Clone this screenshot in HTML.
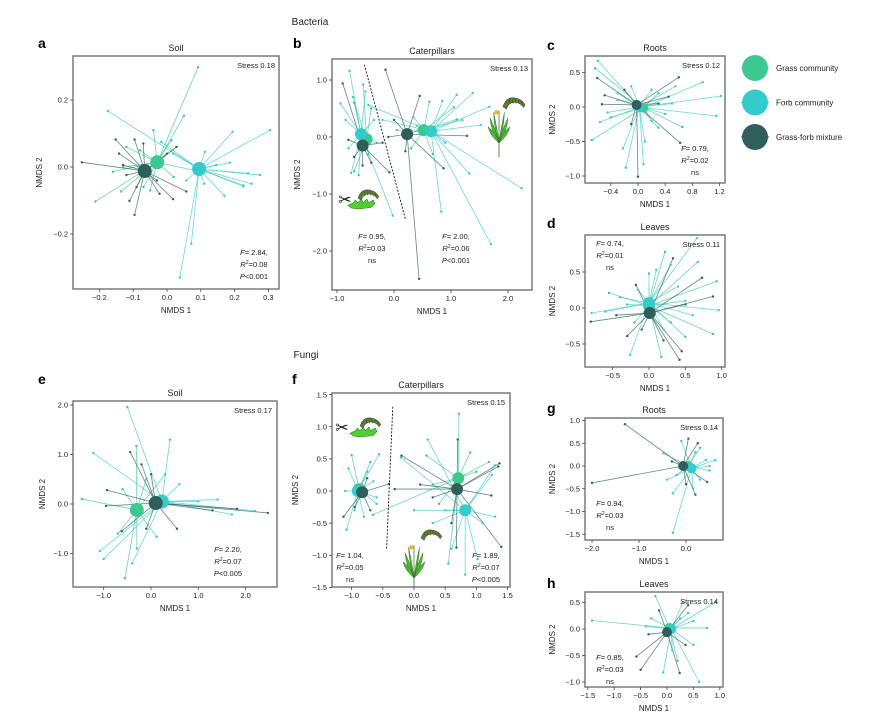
<!DOCTYPE html>
<html><head><meta charset="utf-8"><style>
body{margin:0;background:#fff;}
svg{display:block;font-family:"Liberation Sans",Arial,sans-serif;}
</style></head><body>
<svg id="fig" width="875" height="717" viewBox="0 0 875 717"></svg>
<script>
// ---- Panel data (NMDS coordinates) ----
const aGrass=[[0.092,0.298],[0.05,0.153],[-0.212,-0.103],[-0.16,-0.014],[-0.04,0.11],[0.028,0.06],[-0.136,-0.073],[-0.08,0.05],[-0.07,-0.06],[-0.12,0.06],[0.013,0.08],[-0.05,-0.07],[0.02,-0.03],[0.08,-0.01],[-0.13,0.0]];
const aForb=[[0.305,0.11],[-0.175,0.167],[0.038,-0.33],[0.072,-0.229],[0.275,-0.024],[0.226,-0.058],[0.17,-0.086],[0.194,0.105],[0.24,-0.019],[0.226,-0.055],[0.112,0.045],[0.146,0.006],[0.186,0.013],[0.057,-0.04],[-0.017,0.075],[0.018,0.04],[0.25,-0.05],[0.11,-0.05]];
const aMix=[[-0.252,0.014],[-0.152,0.082],[-0.096,-0.143],[-0.111,-0.101],[-0.022,-0.08],[0.018,-0.096],[0.057,-0.073],[-0.096,0.082],[0.028,0.06],[-0.142,0.04],[-0.12,-0.024],[-0.09,-0.06],[-0.13,0.006],[-0.07,0.07],[0.0,0.04],[-0.03,-0.04]];
const aCent={g:[[-0.029,0.014]],f:[[0.095,-0.006]],m:[[-0.066,-0.012]]};

const bGrass=[[-0.54,0.92,0],[-0.7,0.6,0],[-0.4,0.5,0],[-0.45,-0.3,0],[-0.7,-0.6,0],[1.1,0.31,1],[0.62,0.62,1],[1.05,0.52,1],[0.34,0.35,1],[0.05,0.12,1],[0.68,-0.3,1],[1.2,0.3,1],[0.3,-0.2,1]];
const bForb=[[-0.78,1.16,0],[-0.94,0.59,0],[-0.72,0.7,0],[-0.02,-1.38,0],[-0.75,-0.63,0],[-0.62,-0.67,0],[-0.85,0.3,0],[-0.35,0.3,0],[-0.3,-0.1,0],[-0.8,-0.2,0],[-0.5,0.8,0],[-0.45,0.56,1],[2.24,-0.9,1],[1.7,-1.88,1],[1.32,-0.64,1],[0.83,-1.31,1],[1.38,0.77,1],[1.67,0.53,1],[1.52,0.21,1],[0.85,0.63,1],[1.1,0.74,1],[0.4,0.2,1],[0.9,-0.1,1],[-0.2,0.3,1]];
const bMix=[[-0.9,0.94,0],[-0.08,-0.62,0],[-0.4,-0.45,0],[-0.7,-0.35,0],[-0.55,-0.5,0],[-0.2,-0.1,0],[-0.8,-0.05,0],[-0.15,1.18,1],[0.44,-2.49,1],[0.45,0.72,1],[1.28,0.02,1],[0.87,-0.55,1],[0.2,-0.25,1],[0.0,0.3,1],[-0.1,0.0,1],[0.55,0.15,1]];
const bCent={g:[[-0.48,-0.04],[0.52,0.12]],f:[[-0.58,0.05],[0.65,0.1]],m:[[-0.55,-0.15],[0.23,0.05]]};

const cGrass=[[-0.63,0.56],[-0.68,-0.48],[0.95,0.36],[0.65,-0.29],[0.3,0.2],[-0.3,0.1],[0.4,-0.1],[-0.4,-0.15],[0.2,-0.2]];
const cForb=[[-0.59,0.67],[-0.45,-0.08],[-0.56,-0.22],[-0.18,-0.88],[0.08,-0.83],[-0.22,-0.6],[0.55,0.3],[1.22,0.16],[1.15,-0.13],[0.3,-0.3],[-0.1,0.3],[0.2,0.25],[0.5,0.05],[-0.3,0.2],[0.1,-0.5]];
const cMix=[[-0.6,0.42],[-0.49,0.17],[-0.53,0.04],[0.0,-1.01],[0.6,0.43],[0.62,-0.52],[0.45,0.15],[-0.2,0.25],[0.3,0.05],[-0.1,-0.25]];
const cCent={g:[[0.08,-0.01]],f:[[0.02,0.0]],m:[[-0.02,0.03]]};

const dGrass=[[0.22,0.78],[0.67,0.64],[0.93,0.37],[0.88,-0.36],[0.17,-0.68],[0.0,0.48],[-0.55,0.21],[0.3,-0.2],[-0.3,0.05],[0.5,0.1],[-0.2,-0.2]];
const dForb=[[0.66,0.97],[0.96,-0.03],[-0.26,-0.65],[-0.79,-0.07],[0.1,0.53],[0.5,-0.4],[0.4,0.3],[-0.4,0.15],[-0.6,-0.05],[0.2,-0.3],[-0.15,0.25],[0.6,-0.1],[0.3,0.6]];
const dMix=[[0.33,0.69],[0.73,0.42],[0.88,0.16],[0.42,-0.72],[0.45,-0.6],[-0.3,-0.39],[-0.8,-0.19],[-0.18,0.32],[0.2,-0.45],[-0.45,-0.1],[0.5,0.05],[-0.1,-0.3]];
const dCent={g:[[0.0,0.03]],f:[[0.0,0.07]],m:[[0.01,-0.07]]};

const eGrass=[[-0.31,1.17],[-1.46,0.1],[-0.55,-1.5],[0.12,-0.66],[-0.7,-0.6],[-0.3,-0.9],[-0.6,0.3],[0.3,0.6],[-0.1,0.5]];
const eForb=[[-0.5,1.96],[-1.22,1.03],[-1.08,-0.95],[-1.0,-1.11],[2.2,-0.14],[1.71,-0.21],[1.41,0.09],[0.4,1.3],[0.6,0.4],[1.0,0.05],[-0.4,-1.2]];
const eMix=[[-0.44,1.05],[-0.93,0.28],[-0.95,-0.04],[0.55,-0.5],[-0.62,-0.55],[2.47,-0.18],[1.82,-0.1],[1.3,-0.13],[-0.2,0.8],[-0.1,-0.5],[0.0,0.6]];
const eCent={g:[[-0.3,-0.12]],f:[[0.23,0.05]],m:[[0.1,0.02]]};

const fGrass=[[-1.0,0.56,0],[-0.7,0.45,0],[-0.95,-0.3,0],[-0.6,-0.2,0],[0.72,1.2,1],[0.55,-1.13,1],[-0.66,-0.37,1],[1.2,0.45,1],[1.0,0.3,1],[0.3,0.1,1],[0.2,0.55,1],[0.9,0.6,1],[0.4,-0.2,1]];
const fForb=[[-0.56,0.57,0],[-1.08,-0.6,0],[-1.05,0.35,0],[-0.75,0.3,0],[-0.6,-0.1,0],[-0.8,-0.4,0],[-1.1,0.0,0],[-0.65,0.15,0],[0.22,0.8,1],[-0.21,0.52,1],[0.82,-1.3,1],[1.02,-1.06,1],[1.3,-0.4,1],[1.3,0.4,1],[1.25,0.25,1],[0.3,-0.5,1],[0.0,-0.3,1],[1.1,-0.5,1],[0.6,-0.9,1],[0.5,-0.3,1]];
const fMix=[[-1.13,-0.4,0],[-0.4,0.11,0],[-0.95,-0.25,0],[-0.7,-0.3,0],[-0.75,0.2,0],[0.7,0.8,1],[-0.2,0.55,1],[-0.31,0.03,1],[1.37,0.43,1],[1.35,0.38,1],[1.24,-0.07,1],[1.4,-0.87,1],[0.68,-0.88,1],[0.1,0.1,1],[0.3,-0.1,1],[0.6,-0.5,1]];
const fCent={g:[[-0.88,0.03],[0.71,0.2]],f:[[-0.9,0.0],[0.82,-0.3]],m:[[-0.83,-0.02],[0.69,0.03]]};

const gGrass=[[-0.48,0.28],[0.3,0.4],[0.5,-0.1],[-0.2,-0.2],[0.2,0.3]];
const gForb=[[-0.28,-1.47],[-0.28,-0.6],[0.42,0.13],[0.62,0.13],[0.5,0.0],[0.15,-0.5],[-0.1,0.55],[0.3,-0.3],[-0.4,-0.3]];
const gMix=[[-1.3,0.92],[-2.0,-0.37],[0.45,-0.35],[0.2,-0.63],[0.05,0.6],[0.25,0.5],[-0.3,0.1],[0.0,-0.4]];
const gCent={g:[[0.05,0.0]],f:[[0.12,-0.05]],m:[[-0.06,0.0]]};

const hGrass=[[-1.42,0.16],[0.76,0.02],[-0.22,0.62],[0.4,0.3],[-0.3,0.2],[0.5,-0.3],[0.2,-0.6]];
const hForb=[[0.93,0.51],[0.61,-1.0],[-0.07,-0.82],[0.3,0.5],[0.5,0.15],[-0.4,0.05],[0.25,0.2],[0.1,-0.4]];
const hMix=[[-0.58,-0.52],[-0.5,-0.77],[0.24,-0.83],[-0.35,-0.1],[0.35,-0.3],[-0.15,0.35],[0.4,0.45]];
const hCent={g:[[0.05,0.02]],f:[[0.08,0.0]],m:[[0.0,-0.06]]};

// tick labels
const aXT=[-0.2,-0.1,0.0,0.1,0.2,0.3], aYT=[0.2,0.0,-0.2];
const bXT=[-1,0,1,2], bYT=[1,0,-1,-2];
const cXT=[-0.4,0.0,0.4,0.8,1.2], cYT=[0.5,0.0,-0.5,-1.0];
const dXT=[-0.5,0.0,0.5,1.0], dYT=[0.5,0.0,-0.5];
const eXT=[-1,0,1,2], eYT=[2,1,0,-1];
const fXT=[-1.0,-0.5,0.0,0.5,1.0,1.5], fYT=[1.5,1.0,0.5,0.0,-0.5,-1.0,-1.5];
const gXT=[-2,-1,0], gYT=[1.0,0.5,0.0,-0.5,-1.0,-1.5];
const hXT=[-1.5,-1.0,-0.5,0.0,0.5,1.0], hYT=[0.5,0.0,-0.5,-1.0];

const COL={g:'#3dc892',f:'#35cbca',m:'#2f5e5b'};
const NS='http://www.w3.org/2000/svg';
const svg=document.getElementById('fig');
function mk(tag,attrs,parent){const e=document.createElementNS(NS,tag);for(const k in attrs)e.setAttribute(k,attrs[k]);(parent||svg).appendChild(e);return e;}
function txt(x,y,s,size,anchor,parent,extra){const t=mk('text',Object.assign({x:x,y:y,'font-size':size,'text-anchor':anchor||'middle',fill:'#222'},extra||{}),parent);t.textContent=s;return t;}

function fmt(v,dec){return (v<0?'\u2212':'')+Math.abs(v).toFixed(dec);}

function panel(cfg,grass,forb,mix,cent,xt,yt){
  const g=mk('g',{});
  
  
  const [L,T,R,B]=cfg.box;
  const sx=v=>cfg.x0+v*cfg.kx, sy=v=>cfg.y0-v*cfg.ky;
  const clip='clip-'+cfg.id;
  const cp=mk('clipPath',{id:clip},g);mk('rect',{x:L,y:T,width:R-L,height:B-T},cp);
  const plot=mk('g',{'clip-path':'url(#'+clip+')'},g);
  const groups=[['g',grass],['f',forb],['m',mix]];
  groups.forEach(([k,pts])=>{pts.forEach(p=>{const c=cent[k][p[2]||0];
    const l=mk('line',{x1:sx(c[0]),y1:sy(c[1]),x2:sx(p[0]),y2:sy(p[1]),stroke:COL[k],'stroke-width':0.8,'stroke-opacity':0.75},plot);
    
    });});
  groups.forEach(([k,pts])=>{pts.forEach(p=>{
    const d=mk('circle',{cx:sx(p[0]),cy:sy(p[1]),r:1.2,fill:COL[k]},plot);
    
    });});
  if(cfg.extra)cfg.extra(plot,sx,sy);
  groups.forEach(([k])=>{cent[k].forEach(c=>{
    const d=mk('circle',{cx:sx(c[0]),cy:sy(c[1]),r:cfg.cr,fill:COL[k]},plot);
    
    });});
  const fr=mk('rect',{x:L,y:T,width:R-L,height:B-T,fill:'none',stroke:'#7a7a7a','stroke-width':1.5},g);
  
  
  const dx=cfg.dx||1, dy=cfg.dy||1;
  xt.forEach(v=>{const x=sx(v);mk('line',{x1:x,y1:B,x2:x,y2:B+3,stroke:'#444','stroke-width':0.8},g);
    const t=txt(x,B+11,fmt(v,dx===0?0:dx),7.5,'middle',g);
    
    });
  yt.forEach(v=>{const y=sy(v);mk('line',{x1:L-3,y1:y,x2:L,y2:y,stroke:'#444','stroke-width':0.8},g);
    const t=txt(L-5,y+2.7,fmt(v,dy===0?0:dy),7.5,'end',g);
    
    });
  const xl=txt((L+R)/2,B+24,'NMDS 1',8,'middle',g);
  
  
  const yl=txt(0,0,'NMDS 2',8,'middle',g,{transform:'translate('+cfg.ylx+','+(T+B)/2+') rotate(-90)'});
  
  
  const ti=txt((L+R)/2,T-5,cfg.title,9,'middle',g);
  
  
  const le=txt(cfg.lx,cfg.ly,cfg.letter,14,'start',g,{'font-weight':'bold',fill:'#000'});
  
  
  const st=txt(cfg.sx,T+12,'Stress '+cfg.stress,7.5,'end',g);
  
  
  cfg.stats.forEach(s=>stats(g,s));
}
function stats(g,s){
  const [x,y,F,R2,P]=s;
  const grp=mk('g',{'font-size':7.5,fill:'#222'},g);
  
  
  let t=mk('text',{x:x,y:y,'text-anchor':'middle'},grp);
  t.innerHTML='<tspan font-style="italic">F</tspan>= '+F+',';
  t=mk('text',{x:x,y:y+12,'text-anchor':'middle'},grp);
  t.innerHTML='<tspan font-style="italic">R</tspan><tspan font-size="5" dy="-3">2</tspan><tspan dy="3">=</tspan>'+R2;
  t=mk('text',{x:x,y:y+24,'text-anchor':'middle'},grp);
  t.innerHTML=P==='ns'?'ns':'<tspan font-style="italic">P</tspan>&lt;'+P;
}
// icons
function caterpillar(p,x,y,s){const gg=mk('g',{transform:'translate('+x+','+y+') scale('+s+')'},p);
  
  mk('path',{d:'M0,10 Q4,-2 14,0 Q22,1 26,8 L24,11 Q20,5 14,5 Q6,5 4,13 Z',fill:'#5f7d3a',stroke:'#2c3a1c','stroke-width':0.6},gg);
  for(let i=0;i<6;i++)mk('line',{x1:4+i*3.5,y1:1+Math.abs(i-2)*0.6,x2:5+i*3.5,y2:7,stroke:'#2c3a1c','stroke-width':0.5},gg);}
function leaf(p,x,y,s){const gg=mk('g',{transform:'translate('+x+','+y+') scale('+s+')'},p);
  
  mk('path',{d:'M0,6 L6,3 L8,0 L11,3 L15,-1 L17,3 L21,-1 L23,3 L28,0 L30,4 L26,8 L20,9 L12,10 L4,9 Z',fill:'#4fcf32',stroke:'#2a7a1a','stroke-width':0.6},gg);}
function scissors(p,x,y){const t=txt(x,y,'\u2702',16,'middle',p,{fill:'#111'});}
function dandelion(p,x,y,s){const gg=mk('g',{transform:'translate('+x+','+y+') scale('+s+')'},p);
  
  mk('line',{x1:0,y1:20,x2:0,y2:36,stroke:'#8a7a60','stroke-width':1.2},gg);
  [[-10,-8,-3],[-6,-14,-1],[0,-16,0],[6,-14,1],[10,-8,3],[-12,2,-4],[12,2,4]].forEach(([dx,dy])=>mk('path',{d:'M0,20 Q'+(dx*0.3)+','+(dy*0.2+8)+' '+dx+','+dy+' Q'+(dx*0.9)+','+(dy*0.4+10)+' 0,20 Z',fill:'#4fb83a',stroke:'#2a6a1a','stroke-width':0.5},gg));
  mk('circle',{cx:-3,cy:-14,r:2.5,fill:'#e8c020'},gg);}

// ---- panels ----
panel({id:'a',name:'panel-a-bacteria-soil',box:[73,56,279,289],x0:167,kx:338,y0:167,ky:335,cr:7,ylx:42,title:'Soil',letter:'a',lx:38,ly:48,sx:275,stress:'0.18',dx:1,dy:1,stats:[[254,255,'2.84','0.08','0.001']]},aGrass,aForb,aMix,aCent,aXT,aYT);
panel({id:'b',name:'panel-b-bacteria-caterpillars',box:[332,59,532,290],x0:394,kx:57,y0:137,ky:57,cr:6,ylx:300,title:'Caterpillars',letter:'b',lx:293,ly:48,sx:528,stress:'0.13',dx:0,dy:0,stats:[[372,239,'0.95','0.03','ns'],[456,239,'2.00','0.06','0.001']],
  extra:(p,sx,sy)=>{mk('line',{x1:sx(-0.52),y1:sy(1.27),x2:sx(0.2),y2:sy(-1.44),stroke:'#111','stroke-width':0.9,'stroke-dasharray':'2,1.5'},p);
    scissors(p,345,205);caterpillar(p,358,190,0.8);leaf(p,348,200,0.9);dandelion(p,499,125,0.9);caterpillar(p,503,98,0.85);}},bGrass,bForb,bMix,bCent,bXT,bYT);
panel({id:'c',name:'panel-c-bacteria-roots',box:[585,56,725,183],x0:638,kx:68,y0:107,ky:69,cr:5,ylx:555,title:'Roots',letter:'c',lx:547,ly:50,sx:720,stress:'0.12',dx:1,dy:1,stats:[[695,151,'0.79','0.02','ns']]},cGrass,cForb,cMix,cCent,cXT,cYT);
panel({id:'d',name:'panel-d-bacteria-leaves',box:[585,235,725,367],x0:649,kx:72.7,y0:308,ky:72,cr:6,ylx:555,title:'Leaves',letter:'d',lx:547,ly:228,sx:720,stress:'0.11',dx:1,dy:1,stats:[[610,246,'0.74','0.01','ns']]},dGrass,dForb,dMix,dCent,dXT,dYT);
panel({id:'e',name:'panel-e-fungi-soil',box:[73,401,277,587],x0:151,kx:47.3,y0:504,ky:49.5,cr:7,ylx:45,title:'Soil',letter:'e',lx:38,ly:384,sx:272,stress:'0.17',dx:0,dy:0,stats:[[228,552,'2.20','0.07','0.005']]},eGrass,eForb,eMix,eCent,eXT,eYT);
panel({id:'f',name:'panel-f-fungi-caterpillars',box:[332,393,510,587],x0:414,kx:62.4,y0:491,ky:64.3,cr:6,ylx:298,title:'Caterpillars',letter:'f',lx:292,ly:384,sx:505,stress:'0.15',dx:1,dy:1,stats:[[350,558,'1.04','0.05','ns'],[486,558,'1.89','0.07','0.005']],
  extra:(p,sx,sy)=>{mk('line',{x1:sx(-0.34),y1:sy(1.31),x2:sx(-0.44),y2:sy(-0.92),stroke:'#111','stroke-width':0.9,'stroke-dasharray':'2,1.5'},p);
    scissors(p,342,433);caterpillar(p,360,418,0.8);leaf(p,350,428,0.9);dandelion(p,414,560,0.9);caterpillar(p,421,530,0.8);}},fGrass,fForb,fMix,fCent,fXT,fYT);
panel({id:'g',name:'panel-g-fungi-roots',box:[585,418,723,540],x0:686,kx:47,y0:466,ky:45.5,cr:5,ylx:555,title:'Roots',letter:'g',lx:547,ly:413,sx:718,stress:'0.14',dx:0,dy:1,stats:[[610,506,'0.94','0.03','ns']]},gGrass,gForb,gMix,gCent,gXT,gYT);
panel({id:'h',name:'panel-h-fungi-leaves',box:[585,592,723,687],x0:667,kx:52.8,y0:629,ky:53,cr:5,ylx:555,title:'Leaves',letter:'h',lx:547,ly:588,sx:718,stress:'0.14',dx:1,dy:1,stats:[[610,660,'0.85','0.03','ns']]},hGrass,hForb,hMix,hCent,hXT,hYT);

// section headings
let h=txt(310,25,'Bacteria',10,'middle');
h=txt(306,358,'Fungi',10,'middle');

// legend
const legLabels=['Grass community','Forb community','Grass-forb mixture'];
const legKeys=['g','f','m'];
legKeys.forEach((k,i)=>{const y=68+i*34.5;
  const lg=mk('g',{});
  
  
  mk('line',{x1:741,y1:y,x2:769,y2:y,stroke:COL[k],'stroke-width':1},lg);
  mk('circle',{cx:755,cy:y,r:13,fill:COL[k]},lg);
  txt(776,y+3,legLabels[i],8,'start',lg);});
</script>
</body></html>
